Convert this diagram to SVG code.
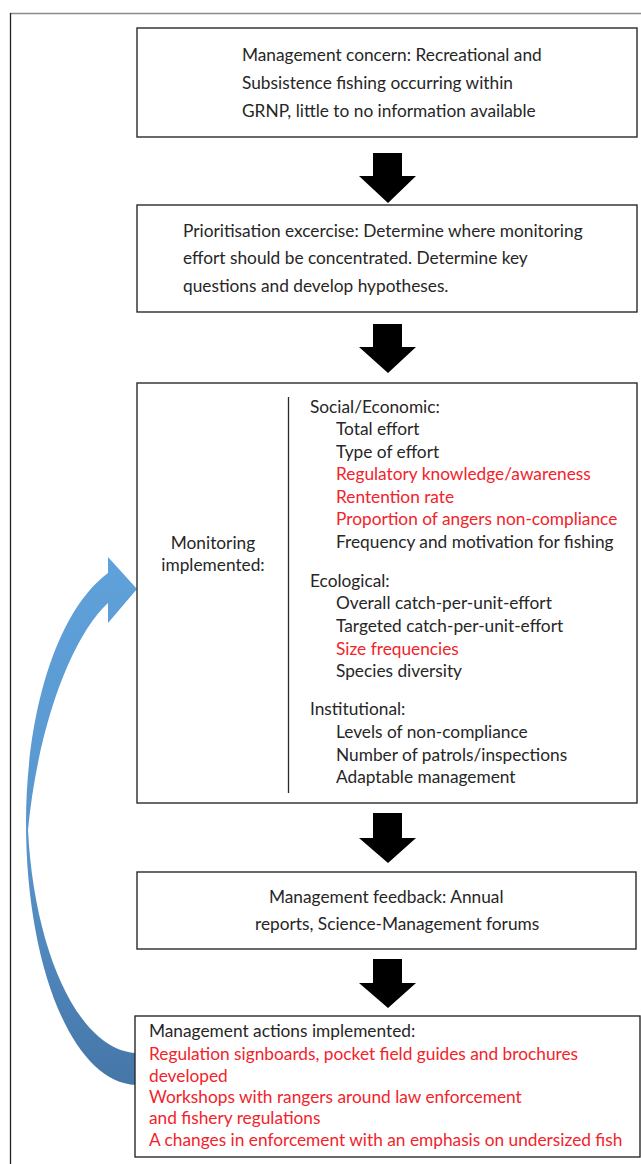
<svg xmlns="http://www.w3.org/2000/svg" width="641" height="1164" viewBox="0 0 641 1164">
<style>
.box{fill:#fff;stroke:#2a2a2a;stroke-width:1.4}
.t{font-family:Lato,"Open Sans","Liberation Sans",sans-serif;font-size:17.3px;fill:#262626}
.r{fill:#F2232B}
.blk{fill:#000}
</style>
<defs>
<linearGradient id="bg" x1="0" y1="557" x2="0" y2="1086" gradientUnits="userSpaceOnUse">
<stop offset="0" stop-color="#5FA1DA"/>
<stop offset="0.5" stop-color="#5A97CF"/>
<stop offset="1" stop-color="#4576A8"/>
</linearGradient>
</defs>
<rect width="641" height="1164" fill="#fff"/>
<g id="frame">
<line x1="10" y1="13.5" x2="641" y2="13.5" stroke="#8a8a8a" stroke-width="1.5"/>
<line x1="10.5" y1="13" x2="10.5" y2="1164" stroke="#222" stroke-width="1.3"/>
</g>
<g id="connectors">
<path class="blk" d="M373,153 H402 V176 H416 L388,203 L359,176 H373 Z"/>
<path class="blk" d="M373,324 H402 V347 H416 L388,373 L359,347 H373 Z"/>
<path class="blk" d="M373,813 H402 V838 H416 L388,863 L359,838 H373 Z"/>
<path class="blk" d="M373,959 H402 V983 H416 L388,1008 L359,983 H373 Z"/>
<g id="feedback-arrow">
<path fill="url(#bg)" d="M136,1085 C70,1082 26,960 26,823 C26,710 58,610 108,573 L108,557 L137,589 L108,623 L108,603 C72,636 38,725 28,830 C34,950 78,1050 136,1053 Z"/>
</g>
</g>
<g id="node-concern">
<rect class="box" x="137" y="28" width="500" height="109"/>
<text class="t" x="242" y="61">Management concern: Recreational and</text>
<text class="t" x="242" y="89">Subsistence fishing occurring within</text>
<text class="t" x="242" y="117">GRNP, little to no information available</text>
</g>
<g id="node-prioritisation">
<rect class="box" x="137" y="205" width="500" height="107"/>
<text class="t" x="183" y="237">Prioritisation excercise: Determine where monitoring</text>
<text class="t" x="183" y="264">effort should be concentrated. Determine key</text>
<text class="t" x="183" y="292">questions and develop hypotheses.</text>
</g>
<g id="node-monitoring">
<rect class="box" x="137" y="383" width="500" height="420"/>
<line x1="288.5" y1="397" x2="288.5" y2="793" stroke="#2a2a2a" stroke-width="1.3"/>
<text class="t" x="213" y="549" text-anchor="middle">Monitoring</text>
<text class="t" x="213" y="571" text-anchor="middle">implemented:</text>
<text class="t" x="310" y="413">Social/Economic:</text>
<text class="t" x="336" y="435">Total effort</text>
<text class="t" x="336" y="458">Type of effort</text>
<text class="t r" x="336" y="480">Regulatory knowledge/awareness</text>
<text class="t r" x="336" y="503">Rentention rate</text>
<text class="t r" x="336" y="525">Proportion of angers non-compliance</text>
<text class="t" x="336" y="548">Frequency and motivation for fishing</text>
<text class="t" x="310" y="587">Ecological:</text>
<text class="t" x="336" y="609">Overall catch-per-unit-effort</text>
<text class="t" x="336" y="632">Targeted catch-per-unit-effort</text>
<text class="t r" x="336" y="655">Size frequencies</text>
<text class="t" x="336" y="677">Species diversity</text>
<text class="t" x="310" y="715">Institutional:</text>
<text class="t" x="336" y="738">Levels of non-compliance</text>
<text class="t" x="336" y="761">Number of patrols/inspections</text>
<text class="t" x="336" y="783">Adaptable management</text>
</g>
<g id="node-feedback">
<rect class="box" x="137" y="872" width="499" height="77"/>
<text class="t" x="269" y="903">Management feedback: Annual</text>
<text class="t" x="255" y="930">reports, Science-Management forums</text>
</g>
<g id="node-actions">
<rect class="box" x="135" y="1016" width="505" height="141"/>
<text class="t" x="149" y="1037">Management actions implemented:</text>
<text class="t r" x="149" y="1060">Regulation signboards, pocket field guides and brochures</text>
<text class="t r" x="149" y="1082">developed</text>
<text class="t r" x="149" y="1103">Workshops with rangers around law enforcement</text>
<text class="t r" x="149" y="1124">and fishery regulations</text>
<text class="t r" x="149" y="1146">A changes in enforcement with an emphasis on undersized fish</text>
</g>
</svg>
